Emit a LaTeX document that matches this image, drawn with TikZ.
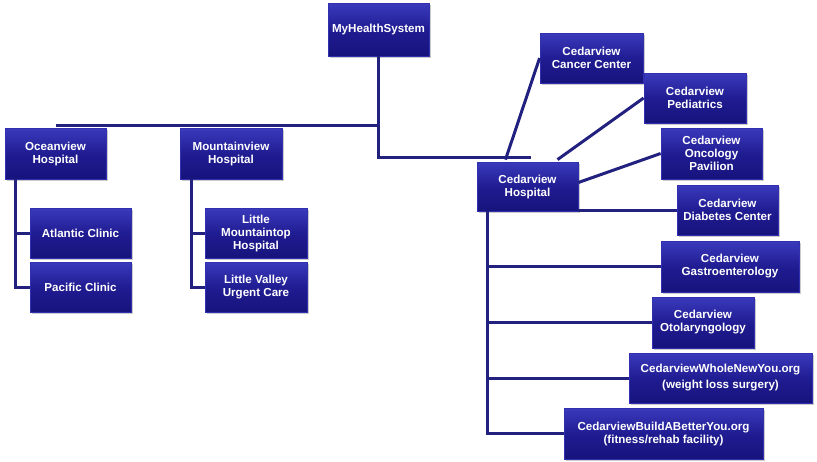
\documentclass[tikz,border=0pt]{standalone}
\usepackage{fontspec}
\setmainfont{Liberation Sans}
\usetikzlibrary{shadows}
\definecolor{boxtop}{HTML}{3A3ABC}
\definecolor{boxmid}{HTML}{201C92}
\definecolor{boxbot}{HTML}{17137C}
\definecolor{edge}{HTML}{3030B0}
\definecolor{conn}{HTML}{23217F}
\tikzset{
  box/.style={draw=edge, line width=0.8pt, top color=boxtop, bottom color=boxbot, middle color=boxmid,
    text=white, font=\fontsize{11.6}{13}\selectfont\bfseries, align=center, inner sep=1pt,
    drop shadow={shadow xshift=1.5pt, shadow yshift=-1.5pt, fill=black!35, opacity=0.6}},
  conline/.style={draw=conn, line width=3pt}
}
\begin{document}
\begin{tikzpicture}[x=1pt,y=-1pt]
\useasboundingbox (0,0) rectangle (817,461);
\node[box, minimum width=101pt, minimum height=53pt] (mh) at (378.5,29.5) {MyHealthSystem};
\node[box, minimum width=101pt, minimum height=51pt] (ocean) at (55.5,153.5) {Oceanview\\Hospital};
\node[box, minimum width=102pt, minimum height=51pt] (mountain) at (231,153.5) {Mountainview\\Hospital};
\node[box, minimum width=101pt, minimum height=49pt] (cedar) at (527.5,186.5) {Cedarview\\Hospital};

\draw[conline] (mh.south) |- ([xshift=3pt,yshift=4pt]cedar.north);
\draw[conline] ([yshift=2pt]ocean.north) -- ([yshift=2pt]ocean.north -| mh.south);

\node[box, minimum width=101pt, minimum height=50pt] (atlantic) at (80.5,233) {Atlantic Clinic};
\node[box, minimum width=101pt, minimum height=50pt] (pacific) at (80.5,287) {Pacific Clinic};
\node[box, minimum width=102pt, minimum height=50pt] (littlem) at (256,233) {Little\\Mountaintop\\Hospital};
\node[box, minimum width=102pt, minimum height=50pt] (littlev) at (256,287) {Little Valley\\Urgent Care};

\node[box, minimum width=103pt, minimum height=50pt] (cancer) at (591.5,58) {Cedarview\\Cancer Center};
\node[box, minimum width=102pt, minimum height=50pt] (pediatrics) at (695,98) {Cedarview\\Pediatrics};
\node[box, minimum width=101pt, minimum height=51pt] (oncology) at (711.5,153.5) {Cedarview\\Oncology\\Pavilion};
\node[box, minimum width=101pt, minimum height=50pt] (diabetes) at (727.5,210) {Cedarview\\Diabetes Center};
\node[box, minimum width=138pt, minimum height=51pt] (gastro) at (730,266.5) {Cedarview\\Gastroenterology};
\node[box, minimum width=102pt, minimum height=51pt] (otolaryn) at (703,322.5) {Cedarview\\Otolaryngology};
\node[box, minimum width=183pt, minimum height=50pt] (whole) at (720.5,378) {CedarviewWholeNewYou.org\\[3pt](weight loss surgery)};
\node[box, minimum width=199pt, minimum height=51pt] (build) at (663.5,433.5) {CedarviewBuildABetterYou.org\\(fitness/rehab facility)};

\draw[conline] ([xshift=-40pt]ocean.south) |- (atlantic.west);
\draw[conline] ([xshift=-40pt]ocean.south) |- (pacific.west);
\draw[conline] ([xshift=-40pt]mountain.south) |- (littlem.west);
\draw[conline] ([xshift=-40pt]mountain.south) |- (littlev.west);
\draw[conline] ([xshift=-40.5pt]cedar.south) |- (gastro.west);
\draw[conline] ([xshift=-40.5pt]cedar.south) |- (otolaryn.west);
\draw[conline] ([xshift=-40.5pt]cedar.south) |- (whole.west);
\draw[conline] ([xshift=-40.5pt]cedar.south) |- (build.west);
\draw[conline] ([xshift=-22pt,yshift=2pt]cedar.north) -- (cancer.west);
\draw[conline] ([xshift=30pt,yshift=2pt]cedar.north) -- (pediatrics.west);
\draw[conline] ([yshift=4pt]cedar.east) -- (oncology.west);
\draw[conline] (cedar.east |- diabetes.west) -- (diabetes.west);
\end{tikzpicture}
\end{document}
